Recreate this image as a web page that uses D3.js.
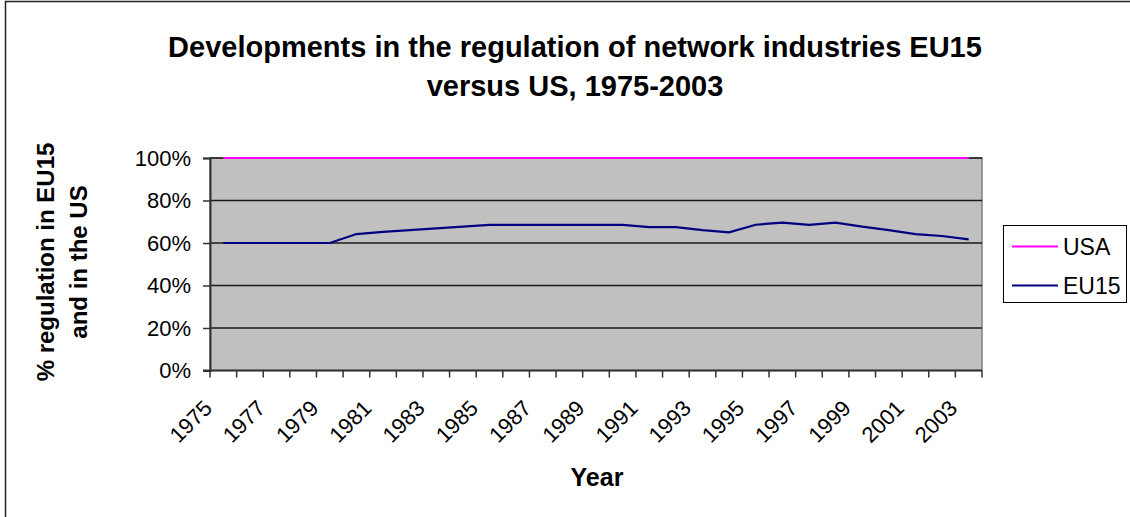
<!DOCTYPE html>
<html>
<head>
<meta charset="utf-8">
<script src="https://cdnjs.cloudflare.com/ajax/libs/d3/7.8.5/d3.min.js"></script>
<style>
body{margin:0;background:#fff;}
svg{display:block;font-family:"Liberation Sans",Arial,sans-serif;}
</style>
</head>
<body>
<div class="graph"></div>
<script>
// data
var years=["1975","1976","1977","1978","1979","1980","1981","1982","1983","1984",
           "1985","1986","1987","1988","1989","1990","1991","1992","1993","1994",
           "1995","1996","1997","1998","1999","2000","2001","2002","2003"];
var usa=[1,1,1,1,1,1,1,1,1,1,1,1,1,1,1,1,1,1,1,1,1,1,1,1,1,1,1,1,1];
var eu15=[0.60,0.60,0.60,0.60,0.60,0.642,0.652,0.661,0.669,0.677,
          0.685,0.685,0.685,0.685,0.685,0.685,0.675,0.675,0.661,0.650,
          0.686,0.696,0.685,0.696,0.677,0.661,0.642,0.633,0.617];
var yTicks=[0,0.2,0.4,0.6,0.8,1];
var labelYears=["1975","1977","1979","1981","1983","1985","1987","1989","1991",
                "1993","1995","1997","1999","2001","2003"];
var seriesNames=["USA","EU15"];
var seriesColors=["#ff00ff","#000080"];

const width=1130;
const height=517;

var plot={left:210,right:982,top:158,bottom:370.5};

var svg=d3.select(".graph")
    .append("svg")
    .attr("width",width)
    .attr("height",height);

// chart border (right/bottom edges fall off the picture)
svg.append("rect")
    .attr("x",5.5).attr("y",1.5)
    .attr("width",width+20).attr("height",height+20)
    .attr("fill","#fff")
    .attr("stroke","#222").attr("stroke-width",1.5);

var scaleX=d3.scaleBand()
    .domain(years)
    .range([plot.left,plot.right]);

var scaleY=d3.scaleLinear()
    .domain([0,1])
    .range([plot.bottom,plot.top]);

// plot area
svg.append("rect")
    .attr("x",plot.left).attr("y",plot.top)
    .attr("width",plot.right-plot.left)
    .attr("height",plot.bottom-plot.top)
    .attr("fill","#c0c0c0")
    .attr("stroke","#808080").attr("stroke-width",1.5);

// gridlines
svg.append("g").selectAll("line")
    .data(yTicks.filter(d=>d>0))
    .enter().append("line")
    .attr("x1",plot.left).attr("x2",plot.right)
    .attr("y1",d=>scaleY(d)).attr("y2",d=>scaleY(d))
    .attr("stroke","#1a1a1a").attr("stroke-width",1.5);

// y axis
var yAxis=d3.axisLeft(scaleY)
    .tickValues(yTicks)
    .tickFormat(d3.format(".0%"))
    .tickSize(7)
    .tickPadding(12);
var gy=svg.append("g")
    .attr("transform","translate("+plot.left+",0)")
    .call(yAxis);
gy.select(".domain").attr("stroke","#333").attr("stroke-width",2);
gy.selectAll(".tick line").attr("stroke","#333").attr("stroke-width",1.5);
gy.selectAll(".tick text")
    .attr("font-size",22)
    .attr("fill","#000")
    .attr("font-family","Liberation Sans, Arial, sans-serif");

// x axis: ticks sit on the category boundaries
var bounds=years.map(d=>scaleX(d)).concat([plot.right]);
var gx=svg.append("g");
gx.append("line")
    .attr("x1",plot.left-7).attr("x2",plot.right)
    .attr("y1",plot.bottom).attr("y2",plot.bottom)
    .attr("stroke","#333").attr("stroke-width",2);
gx.selectAll(".xt")
    .data(bounds)
    .enter().append("line")
    .attr("class","xt")
    .attr("x1",d=>d).attr("x2",d=>d)
    .attr("y1",plot.bottom).attr("y2",plot.bottom+7)
    .attr("stroke","#333").attr("stroke-width",1.5);

var xAxis=d3.axisBottom(scaleX)
    .tickValues(labelYears)
    .tickSize(0);
var gxl=svg.append("g")
    .attr("transform","translate(0,"+plot.bottom+")")
    .call(xAxis);
gxl.select(".domain").remove();
gxl.selectAll(".tick text")
    .attr("y",0).attr("dy",0)
    .attr("text-anchor","end")
    .attr("transform","translate(-10,39) rotate(-45)")
    .attr("font-size",22)
    .attr("fill","#000")
    .attr("font-family","Liberation Sans, Arial, sans-serif");

// lines
var line=d3.line()
    .x((d,i)=>scaleX(years[i])+scaleX.bandwidth()/2)
    .y(d=>scaleY(d));

[usa,eu15].forEach(function(s,k){
    svg.append("path")
        .datum(s)
        .attr("d",line)
        .attr("fill","none")
        .attr("stroke",seriesColors[k])
        .attr("stroke-width",2.2);
});

// titles
var title=svg.append("text")
    .attr("text-anchor","middle")
    .attr("font-weight","bold")
    .attr("font-size",29);
title.append("tspan").attr("x",575).attr("y",57)
    .text("Developments in the regulation of network industries EU15");
title.append("tspan").attr("x",575).attr("y",96)
    .text("versus US, 1975-2003");

svg.append("text")
    .attr("x",597).attr("y",486)
    .attr("text-anchor","middle")
    .attr("font-weight","bold")
    .attr("font-size",25)
    .text("Year");

var ytitle=svg.append("text")
    .attr("transform","translate(0,262) rotate(-90)")
    .attr("text-anchor","middle")
    .attr("font-weight","bold")
    .attr("font-size",24);
ytitle.append("tspan").attr("x",0).attr("y",54).text("% regulation in EU15");
ytitle.append("tspan").attr("x",0).attr("y",87).text("and in the US");

// legend
var legend=svg.append("g");
legend.append("rect")
    .attr("x",1003.5).attr("y",225.5)
    .attr("width",123).attr("height",77)
    .attr("fill","#fff")
    .attr("stroke","#000").attr("stroke-width",1);
var item=legend.selectAll(".item")
    .data(seriesNames)
    .enter().append("g")
    .attr("transform",(d,i)=>"translate(0,"+(246.5+i*39)+")");
item.append("line")
    .attr("x1",1012).attr("x2",1058)
    .attr("stroke",(d,i)=>seriesColors[i])
    .attr("stroke-width",2);
item.append("text")
    .attr("x",1063).attr("y",8)
    .attr("font-size",23)
    .text(d=>d);
</script>
</body>
</html>
